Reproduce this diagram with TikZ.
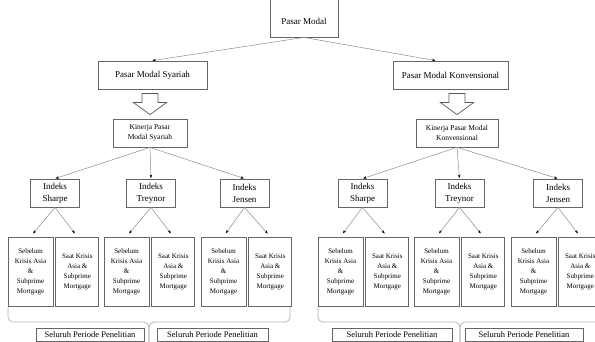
\documentclass[tikz,border=0pt]{standalone}
\usepackage{fontspec}
\setmainfont{Liberation Serif}
\usetikzlibrary{arrows.meta,positioning}

\begin{document}
\begin{tikzpicture}[x=1pt,y=-1pt,
  box/.style={draw=black!60, line width=0.8pt, align=center, inner sep=1pt, font=\fontsize{9}{12}\selectfont},
  leaf/.style={box, minimum height=69pt, font=\fontsize{7}{10}\selectfont},
  arr/.style={draw=black!45, line width=0.5pt, -{Stealth[length=3.5pt,width=2.6pt,color=black]}},
  blockarr/.style={draw=black!65, line width=0.7pt, fill=white},
  bracepath/.style={draw=black!30, line width=0.7pt, rounded corners=5pt}]

  \clip (0,0) rectangle (595,342);

  % Root (cut off at the top)
  \node[box, minimum width=68pt, minimum height=42pt,
        label={[font=\fontsize{9}{12}\selectfont, yshift=-5pt]center:Pasar Modal}] (pasar) at (304,16) {};

  % Two markets
  \node[box, minimum width=109pt, minimum height=28pt] (syariah) at (152.5,75) {Pasar Modal Syariah};
  \node[box, minimum width=115pt, minimum height=28pt] (konv) at (450.5,75) {Pasar Modal Konvensional};
  \draw[arr] (pasar.south) -- (syariah.north);
  \draw[arr] (pasar.south) -- ([xshift=-15pt]konv.north);

  % Kinerja boxes
  \node[box, minimum width=74pt, minimum height=28pt, font=\fontsize{7.5}{10.5}\selectfont] (kinS) at (150,133) {Kinerja Pasar\\Modal Syariah};
  \node[box, minimum width=82pt, minimum height=28pt, font=\fontsize{7.5}{10.5}\selectfont] (kinK) at (457,133) {Kinerja Pasar Modal\\Konvensional};

  % Hollow block arrows
  \foreach \k in {kinS, kinK} {
    \draw[blockarr] ([yshift=4pt]\k.north) -- ++(16.5,-12) -- ++(-8.5,0) -- ++(0,-9)
      -- ++(-16,0) -- ++(0,9) -- ++(-8.5,0) -- cycle;
  }

  % Indeks boxes
  \foreach \n/\x/\t/\k in {s1/55/Sharpe/kinS, s2/151/Treynor/kinS, s3/244.5/Jensen/kinS,
                          k1/362.5/Sharpe/kinK, k2/459.5/Treynor/kinK, k3/558/Jensen/kinK} {
    \node[box, minimum width=49pt, minimum height=28pt] (ix\n) at (\x,193) {Indeks\\\t};
    \draw[arr, shorten >=0.5pt] (\k.south) -- (ix\n.north);
  }

  % Period boxes under each index
  \foreach \n/\x in {s1/8, s2/104, s3/201, k1/318, k2/414, k3/511} {
    \node[leaf, minimum width=45pt] (\n a) at (\x+22.5,271.5) {Sebelum\\Krisis Asia\\\&\\Subprime\\Mortgage};
    \node[leaf, minimum width=43pt, right=2pt of \n a] (\n b) {Saat Krisis\\Asia \&\\Subprime\\Mortgage};
    \draw[arr, shorten >=4pt] (ix\n.south) -- (\n a.north);
    \draw[arr, shorten >=4pt] (ix\n.south) -- (\n b.north);
  }

  % Braces
  \draw[bracepath] (8,307) |- (149,322) -- (149,342);
  \draw[bracepath] (290,307) |- (149,322) -- (149,342);
  \draw[bracepath] (318,307) |- (460,322) -- (460,342);
  \draw[bracepath] (602,307) |- (460,322) -- (460,342);

  % Whole period
  \node[box, minimum width=108pt, minimum height=13pt, font=\fontsize{8.5}{10}\selectfont] (all1) at (90,335) {Seluruh Periode Penelitian};
  \node[box, minimum width=111pt, minimum height=13pt, font=\fontsize{8.5}{10}\selectfont] (all2) at (212.5,335) {Seluruh Periode Penelitian};
  \node[box, minimum width=120pt, minimum height=13pt, font=\fontsize{8.5}{10}\selectfont] (all3) at (392,335) {Seluruh Periode Penelitian};
  \node[box, minimum width=118pt, minimum height=13pt, font=\fontsize{8.5}{10}\selectfont] (all4) at (524,335) {Seluruh Periode Penelitian};
\end{tikzpicture}
\end{document}
